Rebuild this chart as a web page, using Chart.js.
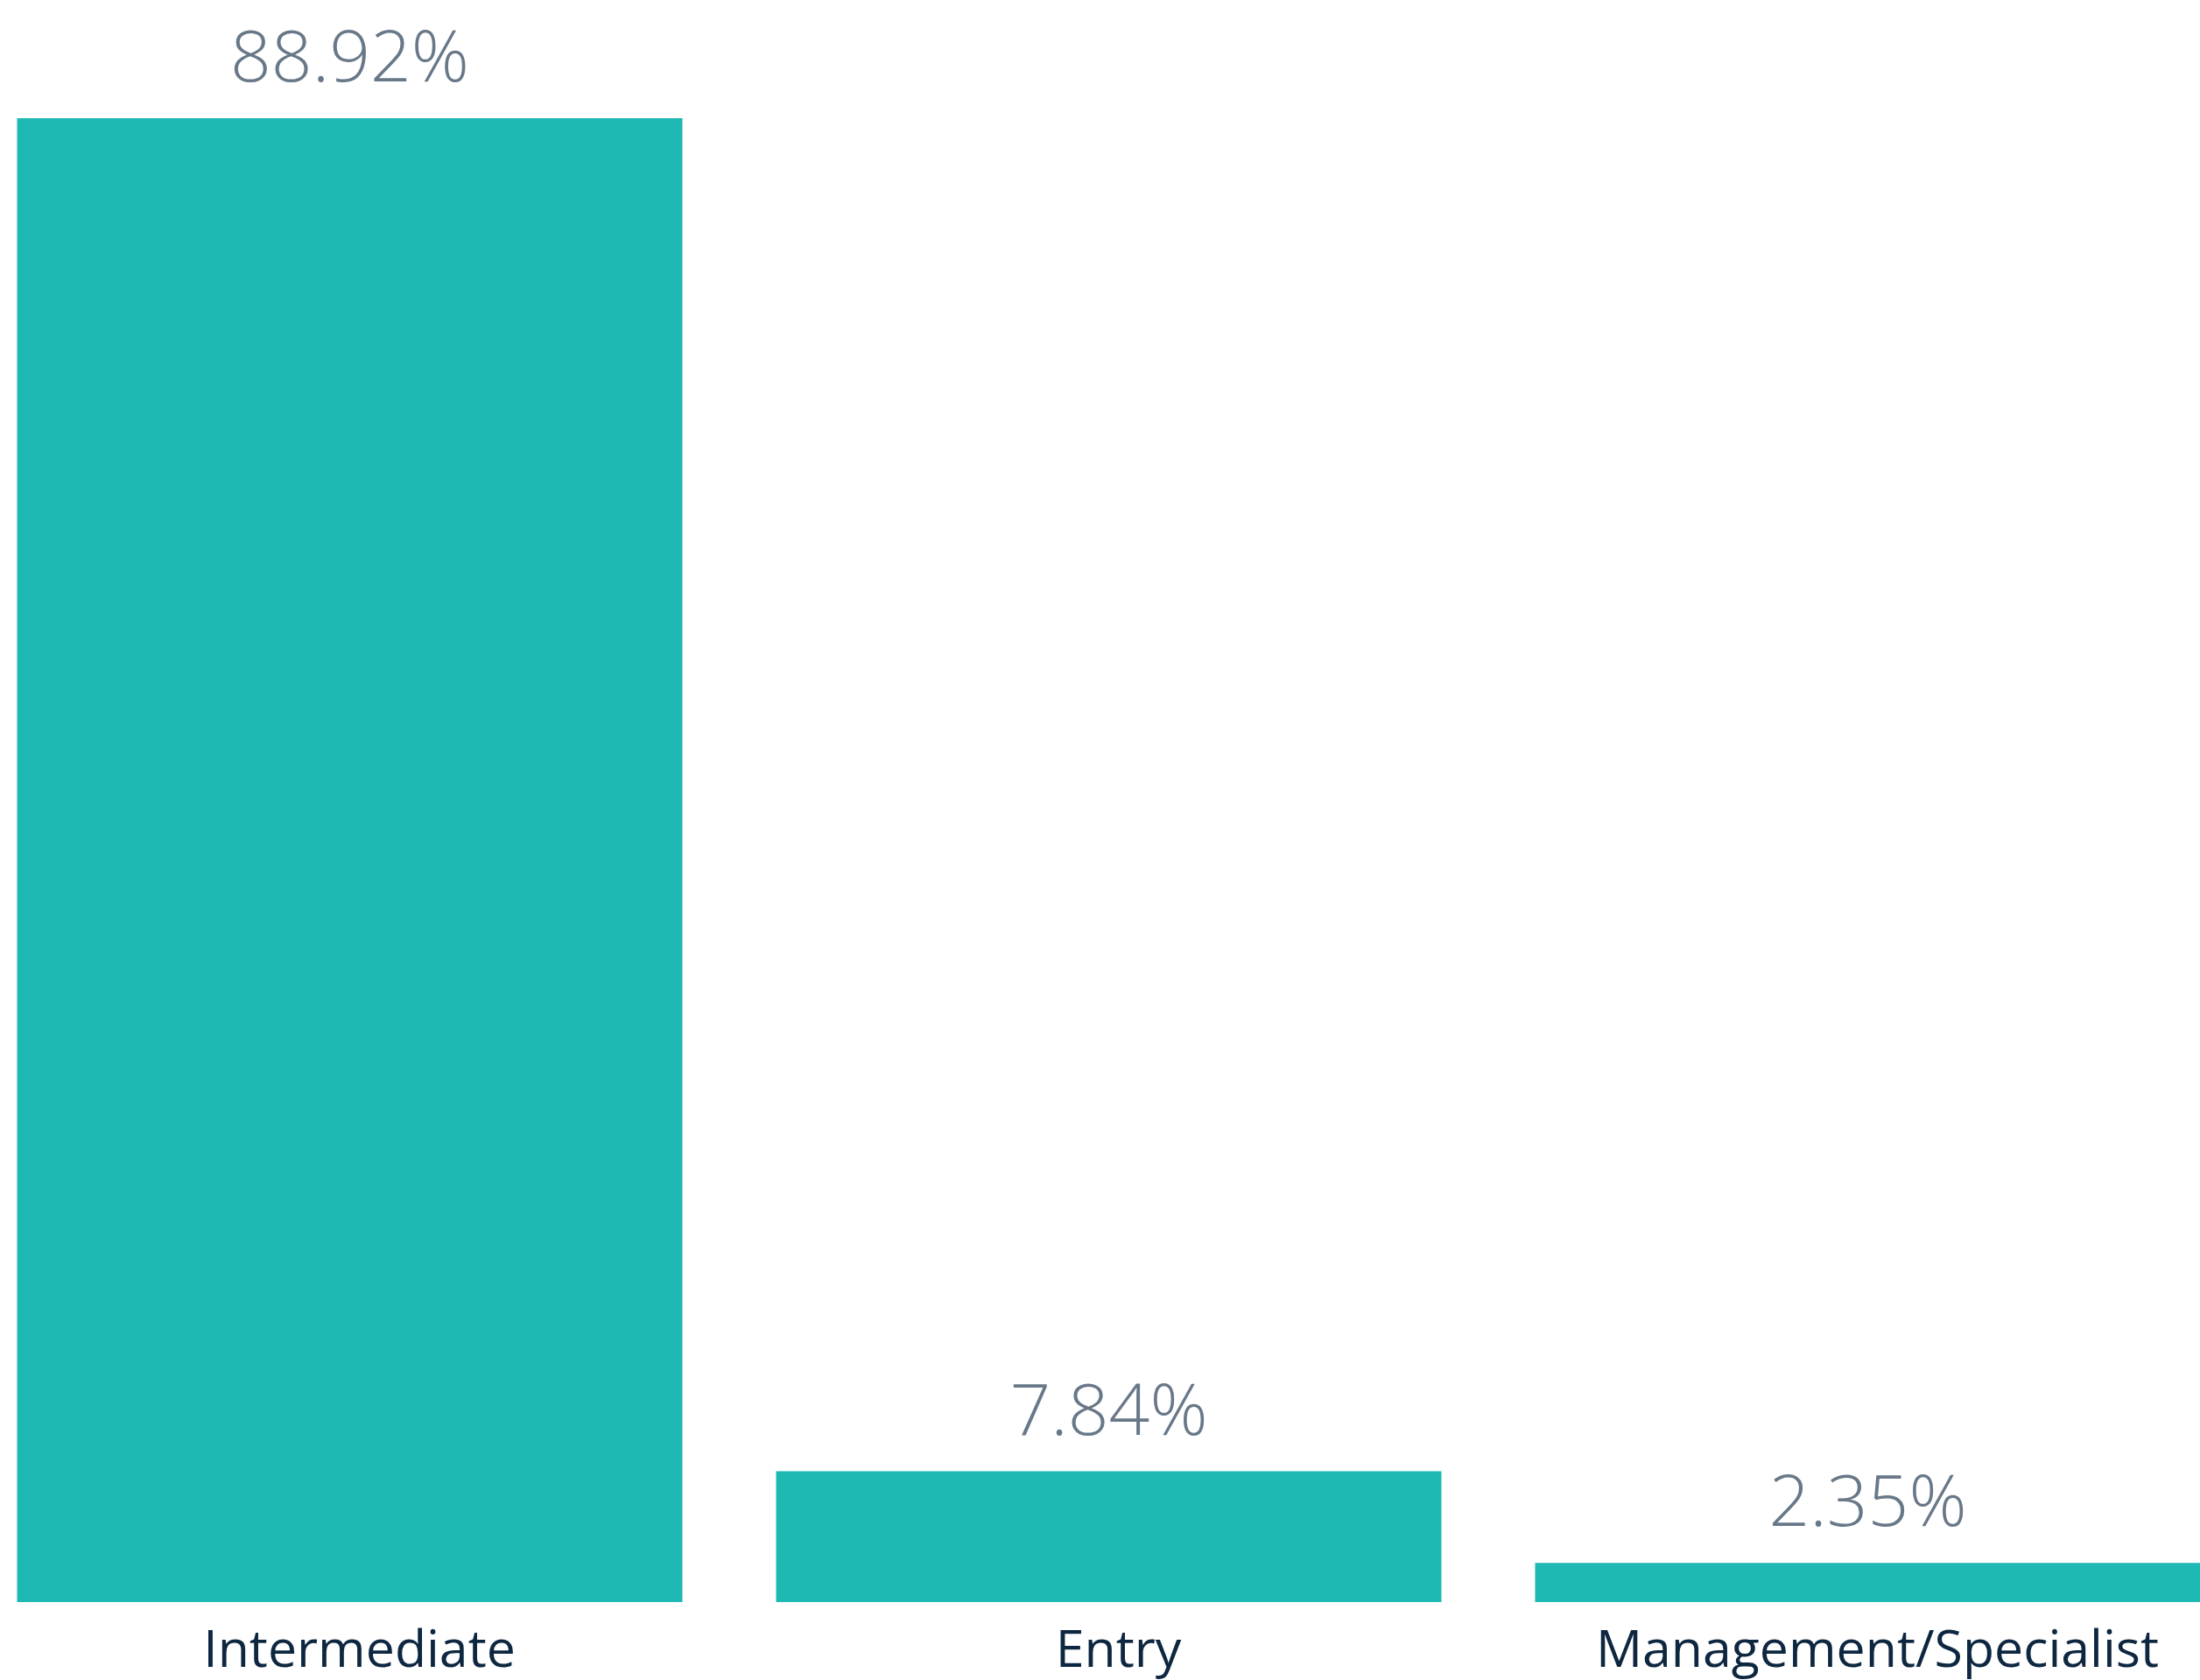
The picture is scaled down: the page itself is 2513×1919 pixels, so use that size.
<!DOCTYPE html>
<html>
<head>
<meta charset="utf-8">
<script src="https://cdn.jsdelivr.net/npm/chart.js@4.4.1/dist/chart.umd.min.js"></script>
<style>
  html, body { margin: 0; padding: 0; background: #ffffff; overflow: hidden; }
  body { width: 2513px; height: 1919px; position: relative; }
  #wrap { position: absolute; left: -34px; top: 0; width: 2601px; height: 1930px; }
</style>
</head>
<body>
<div id="wrap"><canvas id="levelChart" width="2601" height="1930"></canvas></div>
<script>
const levels = ["Intermediate", "Entry", "Management/Specialist"];
const shares = [88.92, 7.84, 2.35];

const barColor = "#1EB9B3";
const valueColor = "#687888";
const labelColor = "#0E2740";
const fontFamily = "'Segoe UI', 'Open Sans', sans-serif";

// draws the % labels above each bar
const valueLabels = {
  id: "valueLabels",
  afterDatasetsDraw(chart) {
    const ctx = chart.ctx;
    const meta = chart.getDatasetMeta(0);
    ctx.save();
    ctx.font = "300 82px " + fontFamily;
    ctx.fillStyle = valueColor;
    ctx.textAlign = "center";
    ctx.textBaseline = "alphabetic";
    meta.data.forEach((bar, i) => {
      ctx.fillText(shares[i].toFixed(2) + "%", bar.x, bar.y - 42);
    });
    ctx.restore();
  }
};

let levelChart = new Chart(document.getElementById("levelChart").getContext("2d"), {
  type: "bar",
  data: {
    labels: levels,
    datasets: [{
      data: shares,
      backgroundColor: barColor,
      borderWidth: 0,
      categoryPercentage: 1,
      barPercentage: 0.8766
    }]
  },
  options: {
    responsive: false,
    devicePixelRatio: 1,
    animation: false,
    layout: { padding: 0 },
    plugins: {
      legend: { display: false },
      tooltip: { enabled: false }
    },
    scales: {
      x: {
        grid: { display: false, drawTicks: false },
        border: { display: false },
        ticks: {
          color: labelColor,
          padding: 22,
          labelOffset: 11,
          font: { family: fontFamily, size: 59 },
          maxRotation: 0,
          autoSkip: false
        },
        afterFit(scale) { scale.height = 100; }
      },
      y: {
        display: false,
        min: 0,
        max: 96
      }
    }
  },
  plugins: [valueLabels]
});
</script>
</body>
</html>
